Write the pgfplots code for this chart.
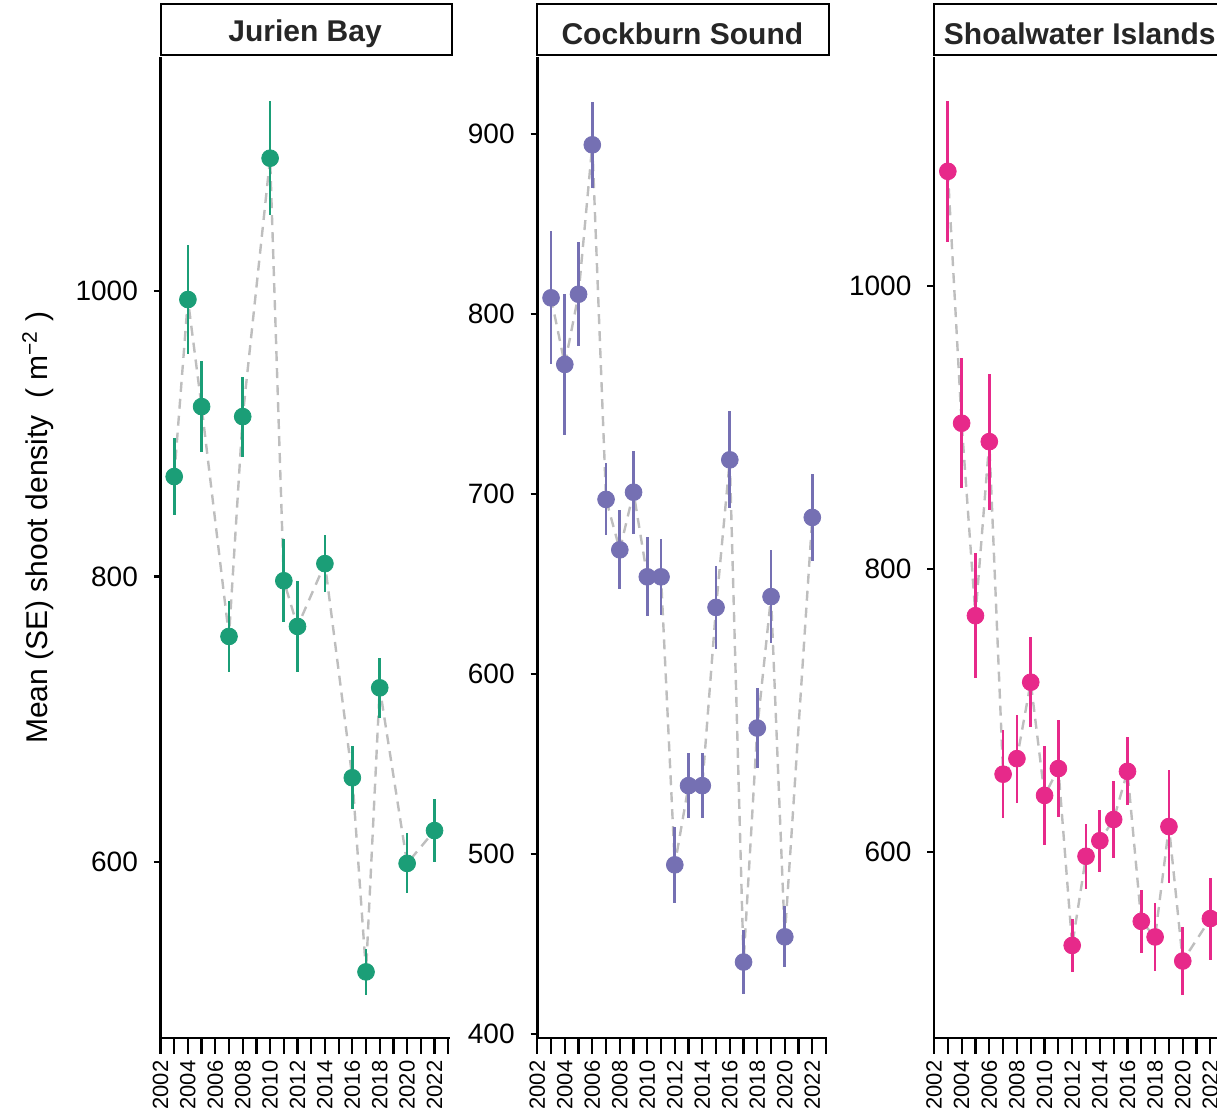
\documentclass[border=0pt]{standalone}
\usepackage{fontspec}
\setmainfont{Liberation Sans}
\usepackage{pgfplots}
\usepackage{pgfplotstable}
\pgfplotsset{compat=1.18}
\usetikzlibrary{calc}

\definecolor{jb}{HTML}{1B9E77}
\definecolor{cs}{HTML}{7570B3}
\definecolor{sw}{HTML}{E7298A}
\definecolor{dashgray}{HTML}{BEBEBE}

% mean and SE per year
\pgfplotstableread{
year mean se
2003 870 27
2004 994 38
2005 919 32
2007 758 25
2008 912 28
2010 1093 40
2011 797 29
2012 765 32
2014 809 20
2016 659 22
2017 523 16
2018 722 21
2020 599 21
2022 622 22
}\jurien

\pgfplotstableread{
year mean se
2003 809 37
2004 772 39
2005 811 29
2006 894 24
2007 697 20
2008 669 22
2009 701 23
2010 654 22
2011 654 21
2012 494 21
2013 538 18
2014 538 18
2015 637 23
2016 719 27
2017 440 18
2018 570 22
2019 643 26
2020 454 17
2022 687 24
}\cockburn

\pgfplotstableread{
year mean se
2003 1081 50
2004 903 46
2005 767 44
2006 890 48
2007 655 31
2008 666 31
2009 720 32
2010 640 35
2011 659 34
2012 534 19
2013 597 23
2014 608 22
2015 623 27
2016 657 24
2017 551 22
2018 540 24
2019 618 40
2020 523 24
2022 553 29
}\shoalwater

\pgfplotsset{
  /pgf/number format/1000 sep={},
  /pgf/number format/assume math mode=true,
  base/.style={
    scale only axis, height=490.5pt, anchor=north west,
    axis line style={line width=1.2pt, black},
    xmin=2002, xmax=2023.1,
    tick align=outside,
    tick style={line width=1.1pt, black},
    clip=false,
  },
  % x axis only: long ticks, every year, labels every second year
  xpanel/.style={base,
    axis x line*=bottom, axis y line=none, ymin=0, ymax=1,
    xtick={2002,...,2023},
    xticklabels={2002,,2004,,2006,,2008,,2010,,2012,,2014,,2016,,2018,,2020,,2022,},
    major tick length=7.8pt,
    xticklabel style={rotate=90, anchor=east, font=\fontsize{11}{13}\selectfont},
  },
  % y axis and data
  ypanel/.style={base,
    axis x line=none, axis y line*=left,
    major tick length=3.3pt,
    yticklabel style={font=\fontsize{14}{16}\selectfont, xshift=-4.5pt},
  },
  trend/.style={no marks, color=dashgray, line width=1.2pt, dash pattern=on 5pt off 3.5pt},
  pts/.style={only marks, mark=*, mark size=4.2pt, color=#1,
    error bars/.cd, y dir=both, y explicit, error mark=none,
    error bar style={line width=1.35pt, color=#1}},
}

\begin{document}
\begin{tikzpicture}
\begin{axis}[xpanel, at={(80.25pt,-28.5pt)}, width=144.55pt]
\end{axis}
\begin{axis}[ypanel, name=p1, at={(80.25pt,-28.5pt)}, width=144.55pt,
  ymin=476.7, ymax=1163.9, ytick={600,800,1000},
  ylabel={Mean (SE) shoot density~~(~m\textsuperscript{−2}~)},
  ylabel style={at={(rel axis cs:-0.424,0.52)}, anchor=center, font=\fontsize{15}{17}\selectfont}]
\addplot[trend] table[x=year, y=mean] {\jurien};
\addplot[pts=jb] table[x=year, y=mean, y error=se] {\jurien};
\end{axis}

\begin{axis}[xpanel, at={(268.65pt,-28.5pt)}, width=145.06pt]
\end{axis}
\begin{axis}[ypanel, name=p2, at={(268.65pt,-28.5pt)}, width=145.06pt,
  ymin=397.8, ymax=942.8, ytick={400,500,...,900}]
\addplot[trend] table[x=year, y=mean] {\cockburn};
\addplot[pts=cs] table[x=year, y=mean, y error=se] {\cockburn};
\end{axis}

\begin{axis}[xpanel, at={(467pt,-28.5pt)}, width=145.8pt]
\end{axis}
\begin{axis}[ypanel, name=p3, at={(467pt,-28.5pt)}, width=145.8pt,
  ymin=468.6, ymax=1161.8, ytick={600,800,1000}]
\addplot[trend] table[x=year, y=mean] {\shoalwater};
\addplot[pts=sw] table[x=year, y=mean, y error=se] {\shoalwater};
\end{axis}

\foreach \p/\t in {p1/Jurien Bay, p2/Cockburn Sound, p3/Shoalwater Islands}{
  \draw[line width=1pt] ($(\p.north west)+(0,1pt)$) rectangle ($(\p.north east)+(1pt,26.5pt)$);
  \node[font=\fontsize{15}{17}\selectfont\bfseries, text=black!85] at ($(\p.north)+(0,11.8pt)$) {\t};
}

\pgfresetboundingbox
\path[use as bounding box] (0,0) rectangle (608.5pt,-555.5pt);
\end{tikzpicture}
\end{document}
